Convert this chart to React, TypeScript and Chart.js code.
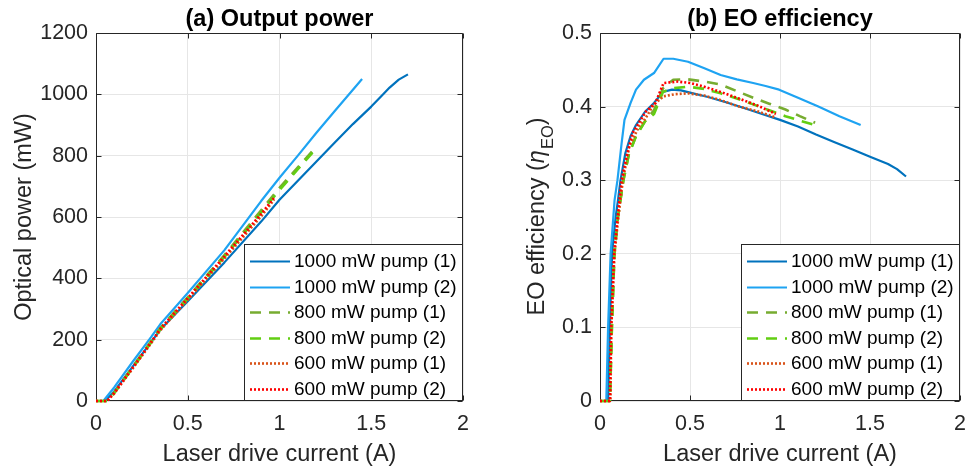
import React, { useEffect, useRef } from "react";
import { Chart, registerables } from "chart.js";

Chart.register(...registerables);

// ---------- data ----------
const seriesLabels = [
  "1000 mW pump (1)",
  "1000 mW pump (2)",
  "800 mW pump (1)",
  "800 mW pump (2)",
  "600 mW pump (1)",
  "600 mW pump (2)",
];

const xTickValues = [0, 0.5, 1, 1.5, 2];
const powerTickValues = [0, 200, 400, 600, 800, 1000, 1200];
const effTickValues = [0, 0.1, 0.2, 0.3, 0.4, 0.5];

// (a) Output power: current (A) and optical power (mW)
const powI_1000_1 = [0, 0.05, 0.1, 0.2, 0.3, 0.35, 0.5, 0.7, 0.9, 1.0, 1.1, 1.2, 1.3, 1.4, 1.5, 1.565, 1.6, 1.65, 1.7];
const powP_1000_1 = [0, 0, 32, 112, 192, 232, 325, 452, 585, 656, 718, 780, 842, 903, 960, 1000, 1022, 1048, 1065];

const powI_1000_2 = [0, 0.04, 0.1, 0.2, 0.3, 0.35, 0.5, 0.7, 0.9, 1.0, 1.1, 1.2, 1.3, 1.45];
const powP_1000_2 = [0, 0, 45, 128, 208, 250, 352, 492, 652, 728, 800, 874, 945, 1050];

const powI_800_1 = [0, 0.06, 0.1, 0.2, 0.3, 0.35, 0.5, 0.7, 0.9, 1.0, 1.1, 1.18];
const powP_800_1 = [0, 0, 28, 112, 195, 238, 338, 476, 622, 695, 762, 815];

const powI_800_2 = [0, 0.06, 0.1, 0.2, 0.3, 0.35, 0.5, 0.7, 0.9, 1.0, 1.1, 1.18];
const powP_800_2 = [0, 0, 26, 108, 190, 233, 333, 470, 615, 688, 756, 810];

const powI_600_1 = [0, 0.06, 0.1, 0.2, 0.3, 0.35, 0.5, 0.7, 0.9, 0.97];
const powP_600_1 = [0, 0, 25, 106, 188, 230, 330, 465, 602, 656];

const powI_600_2 = [0, 0.06, 0.1, 0.2, 0.3, 0.35, 0.5, 0.7, 0.9, 0.97];
const powP_600_2 = [0, 0, 27, 109, 192, 235, 336, 472, 610, 662];

// (b) EO efficiency: current (A) and efficiency
const effI_1000_1 = [0, 0.045, 0.055, 0.067, 0.087, 0.1, 0.114, 0.141, 0.17, 0.2, 0.25, 0.3, 0.35, 0.4, 0.45, 0.5, 0.6, 0.7, 0.8, 0.9, 1.0, 1.1, 1.2, 1.3, 1.4, 1.5, 1.6, 1.65, 1.7];
const effE_1000_1 = [0, 0, 0.1, 0.2, 0.25, 0.273, 0.3, 0.337, 0.36, 0.375, 0.393, 0.405, 0.42, 0.423, 0.422, 0.419, 0.413, 0.406, 0.398, 0.39, 0.382, 0.373, 0.362, 0.352, 0.342, 0.332, 0.322, 0.315, 0.305];

const effI_1000_2 = [0, 0.035, 0.045, 0.059, 0.081, 0.097, 0.12, 0.136, 0.17, 0.2, 0.244, 0.3, 0.353, 0.407, 0.489, 0.58, 0.67, 0.76, 0.851, 0.92, 0.995, 1.1, 1.213, 1.33, 1.448];
const effE_1000_2 = [0, 0, 0.1, 0.2, 0.273, 0.3, 0.35, 0.382, 0.405, 0.423, 0.4365, 0.4456, 0.465, 0.465, 0.461, 0.452, 0.443, 0.437, 0.432, 0.428, 0.423, 0.412, 0.4, 0.387, 0.375];

const effI_800_1 = [0, 0.055, 0.066, 0.08, 0.1, 0.13, 0.16, 0.2, 0.25, 0.3, 0.35, 0.407, 0.489, 0.58, 0.67, 0.76, 0.851, 0.94, 1.03, 1.11, 1.195];
const effE_800_1 = [0, 0, 0.1, 0.2, 0.25, 0.3, 0.335, 0.36, 0.38, 0.395, 0.425, 0.4365, 0.437, 0.434, 0.43, 0.421, 0.412, 0.404, 0.396, 0.387, 0.378];

const effI_800_2 = [0, 0.055, 0.066, 0.08, 0.1, 0.13, 0.16, 0.2, 0.25, 0.3, 0.35, 0.407, 0.489, 0.58, 0.67, 0.76, 0.851, 0.94, 1.03, 1.11, 1.195];
const effE_800_2 = [0, 0, 0.1, 0.2, 0.25, 0.3, 0.335, 0.36, 0.38, 0.39, 0.42, 0.425, 0.427, 0.424, 0.418, 0.411, 0.403, 0.395, 0.387, 0.381, 0.375];

const effI_600_1 = [0, 0.058, 0.063, 0.081, 0.102, 0.127, 0.163, 0.217, 0.25, 0.299, 0.353, 0.42, 0.489, 0.58, 0.668, 0.76, 0.87, 0.968];
const effE_600_1 = [0, 0, 0.1, 0.2, 0.25, 0.3, 0.346, 0.373, 0.383, 0.403, 0.414, 0.417, 0.418, 0.415, 0.409, 0.401, 0.394, 0.386];

const effI_600_2 = [0, 0.055, 0.062, 0.078, 0.098, 0.12, 0.15, 0.181, 0.254, 0.308, 0.353, 0.434, 0.5, 0.579, 0.67, 0.76, 0.87, 0.977];
const effE_600_2 = [0, 0, 0.1, 0.2, 0.25, 0.3, 0.335, 0.364, 0.393, 0.405, 0.432, 0.434, 0.432, 0.427, 0.42, 0.412, 0.402, 0.39];

// ---------- styles ----------
const FONT = '"Liberation Sans", Arial, Helvetica, sans-serif';
const TXT = "#262626";
const GRID = "#e6e6e6";
const seriesColors = ["#0072BD", "#1EA3F2", "#77AC30", "#62CE12", "#D95319", "#FF0000"];
const seriesDash: number[][] = [[], [], [11, 8], [11, 8], [2, 2], [2, 2]];
const seriesWidth = [2.2, 2.2, 2.6, 2.6, 2.6, 2.6];

function zip(xs: number[], ys: number[]) {
  return xs.map((x, i) => ({ x, y: ys[i] }));
}

function buildDatasets(pairs: [number[], number[]][]) {
  return pairs.map(([xs, ys], i) => ({
    label: seriesLabels[i],
    data: zip(xs, ys),
    borderColor: seriesColors[i],
    backgroundColor: seriesColors[i],
    borderWidth: seriesWidth[i],
    borderDash: seriesDash[i],
    borderJoinStyle: "round" as const,
    pointRadius: 0,
    tension: 0,
    fill: false,
    clip: 4,
    order: pairs.length - i,
  }));
}

type PanelCfg = {
  title: string;
  yTitle: string | null;
  etaTitle: boolean;
  yTicks: number[];
  datasets: any[];
  yWidth: number;
  padRight: number;
};

const decorPlugin = {
  id: "decor",
  beforeDatasetsDraw(chart: any, _args: any, opts: any) {
    const { ctx, chartArea: ca, scales } = chart;
    ctx.save();
    ctx.strokeStyle = TXT;
    ctx.lineWidth = 1;
    const L = Math.round(ca.left) + 0.5;
    const R = Math.round(ca.right) - 0.5;
    const T = Math.round(ca.top) + 0.5;
    const B = Math.round(ca.bottom) - 0.5;
    ctx.beginPath();
    ctx.rect(L, T, R - L, B - T);
    ctx.stroke();
    const tl = 5;
    ctx.beginPath();
    for (const v of opts.xTicks) {
      const px = Math.round(scales.x.getPixelForValue(v)) + 0.5;
      ctx.moveTo(px, B);
      ctx.lineTo(px, B - tl);
      ctx.moveTo(px, T);
      ctx.lineTo(px, T + tl);
    }
    for (const v of opts.yTicks) {
      const py = Math.round(scales.y.getPixelForValue(v)) + 0.5;
      ctx.moveTo(L, py);
      ctx.lineTo(L + tl, py);
      ctx.moveTo(R, py);
      ctx.lineTo(R - tl, py);
    }
    ctx.stroke();
    ctx.restore();
  },
  afterDatasetsDraw(chart: any) {
    const { ctx, chartArea: ca } = chart;
    const lw = 219;
    const lh = 157;
    const x0 = Math.round(ca.right - lw);
    const y0 = Math.round(ca.bottom - lh);
    ctx.save();
    ctx.fillStyle = "#ffffff";
    ctx.fillRect(x0, y0, lw, lh);
    ctx.strokeStyle = TXT;
    ctx.lineWidth = 1;
    ctx.strokeRect(x0 + 0.5, y0 + 0.5, lw - 1, lh - 1);
    ctx.font = `19px ${FONT}`;
    ctx.textBaseline = "middle";
    ctx.textAlign = "left";
    chart.data.datasets.forEach((ds: any, i: number) => {
      const yc = y0 + 17 + i * 25.5;
      ctx.beginPath();
      ctx.strokeStyle = ds.borderColor;
      ctx.lineWidth = ds.borderWidth;
      ctx.setLineDash(ds.borderDash || []);
      ctx.moveTo(x0 + 6, Math.round(yc) + 0.5);
      ctx.lineTo(x0 + 46, Math.round(yc) + 0.5);
      ctx.stroke();
      ctx.setLineDash([]);
      ctx.fillStyle = "#000000";
      ctx.fillText(ds.label, x0 + 50, yc + 1);
    });
    ctx.restore();
  },
  afterDraw(chart: any, _args: any, opts: any) {
    const { ctx, chartArea: ca } = chart;
    ctx.save();
    ctx.fillStyle = "#000000";
    ctx.font = `bold 23.5px ${FONT}`;
    ctx.textAlign = "center";
    ctx.textBaseline = "alphabetic";
    ctx.fillText(opts.title, (ca.left + ca.right) / 2, 25.5);
    if (opts.etaTitle) {
      const base = 55.5;
      const cy = (ca.top + ca.bottom) / 2;
      ctx.translate(base, cy);
      ctx.rotate(-Math.PI / 2);
      ctx.fillStyle = TXT;
      ctx.textAlign = "left";
      const parts = [
        { t: "EO efficiency (", f: `23.5px ${FONT}`, dy: 0 },
        { t: "\u03b7", f: `italic 23.5px ${FONT}`, dy: 0 },
        { t: "EO", f: `16.5px ${FONT}`, dy: 9 },
        { t: ")", f: `23.5px ${FONT}`, dy: 0 },
      ];
      let total = 0;
      const widths = parts.map((p) => {
        ctx.font = p.f;
        const w = ctx.measureText(p.t).width;
        total += w;
        return w;
      });
      let x = -total / 2;
      parts.forEach((p, i) => {
        ctx.font = p.f;
        ctx.fillText(p.t, x, p.dy);
        x += widths[i] + (i === 1 ? 1 : 0);
      });
    }
    ctx.restore();
  },
};

function makeChart(canvas: HTMLCanvasElement, cfg: PanelCfg) {
  const yMax = cfg.yTicks[cfg.yTicks.length - 1];
  const yMin = cfg.yTicks[0];
  return new Chart(canvas, {
    type: "line",
    data: { datasets: cfg.datasets },
    plugins: [decorPlugin],
    options: {
      responsive: false,
      animation: false,
      devicePixelRatio: 1,
      layout: { padding: { left: 0, right: cfg.padRight, top: 33, bottom: 0 } },
      plugins: {
        legend: { display: false },
        tooltip: { enabled: false },
        title: { display: false },
        decor: { title: cfg.title, etaTitle: cfg.etaTitle, xTicks: xTickValues, yTicks: cfg.yTicks },
      } as any,
      scales: {
        x: {
          type: "linear",
          min: xTickValues[0],
          max: xTickValues[xTickValues.length - 1],
          afterBuildTicks: (s: any) => {
            s.ticks = xTickValues.map((v) => ({ value: v }));
          },
          afterFit: (s: any) => {
            s.height = 69;
          },
          ticks: {
            color: TXT,
            font: { family: FONT, size: 21.5 },
            padding: 10,
            maxRotation: 0,
            autoSkip: false,
            callback: (v: any) => String(v),
          },
          grid: { color: GRID, lineWidth: 1, drawTicks: false },
          border: { display: false },
          title: {
            display: true,
            text: "Laser drive current (A)",
            color: TXT,
            font: { family: FONT, size: 23.5 },
            padding: { top: 0, bottom: 1.5 },
          },
        },
        y: {
          type: "linear",
          min: yMin,
          max: yMax,
          afterBuildTicks: (s: any) => {
            s.ticks = cfg.yTicks.map((v) => ({ value: v }));
          },
          afterFit: (s: any) => {
            s.width = cfg.yWidth;
          },
          ticks: {
            color: TXT,
            font: { family: FONT, size: 21.5 },
            padding: 8,
            autoSkip: false,
            callback: (v: any) => String(v),
          },
          grid: { color: GRID, lineWidth: 1, drawTicks: false },
          border: { display: false },
          title: {
            display: !!cfg.yTitle,
            text: cfg.yTitle || "",
            color: TXT,
            font: { family: FONT, size: 23.5 },
            padding: { top: 10, bottom: 0 },
          },
        },
      },
    } as any,
  });
}

export default function App() {
  const leftRef = useRef<HTMLCanvasElement>(null);
  const rightRef = useRef<HTMLCanvasElement>(null);

  useEffect(() => {
    const left = makeChart(leftRef.current!, {
      title: "(a) Output power",
      yTitle: "Optical power (mW)",
      etaTitle: false,
      yTicks: powerTickValues,
      yWidth: 96,
      padRight: 25,
      datasets: buildDatasets([
        [powI_1000_1, powP_1000_1],
        [powI_1000_2, powP_1000_2],
        [powI_800_1, powP_800_1],
        [powI_800_2, powP_800_2],
        [powI_600_1, powP_600_1],
        [powI_600_2, powP_600_2],
      ]),
    });
    const right = makeChart(rightRef.current!, {
      title: "(b) EO efficiency",
      yTitle: null,
      etaTitle: true,
      yTicks: effTickValues,
      yWidth: 112,
      padRight: 8,
      datasets: buildDatasets([
        [effI_1000_1, effE_1000_1],
        [effI_1000_2, effE_1000_2],
        [effI_800_1, effE_800_1],
        [effI_800_2, effE_800_2],
        [effI_600_1, effE_600_1],
        [effI_600_2, effE_600_2],
      ]),
    });
    return () => {
      left.destroy();
      right.destroy();
    };
  }, []);

  return (
    <div style={{ position: "absolute", left: 0, top: 0, width: 976, height: 470, background: "#ffffff" }}>
      <canvas
        ref={leftRef}
        width={488}
        height={470}
        style={{ position: "absolute", left: 0, top: 0, width: 488, height: 470 }}
      />
      <canvas
        ref={rightRef}
        width={488}
        height={470}
        style={{ position: "absolute", left: 488, top: 0, width: 488, height: 470 }}
      />
    </div>
  );
}
